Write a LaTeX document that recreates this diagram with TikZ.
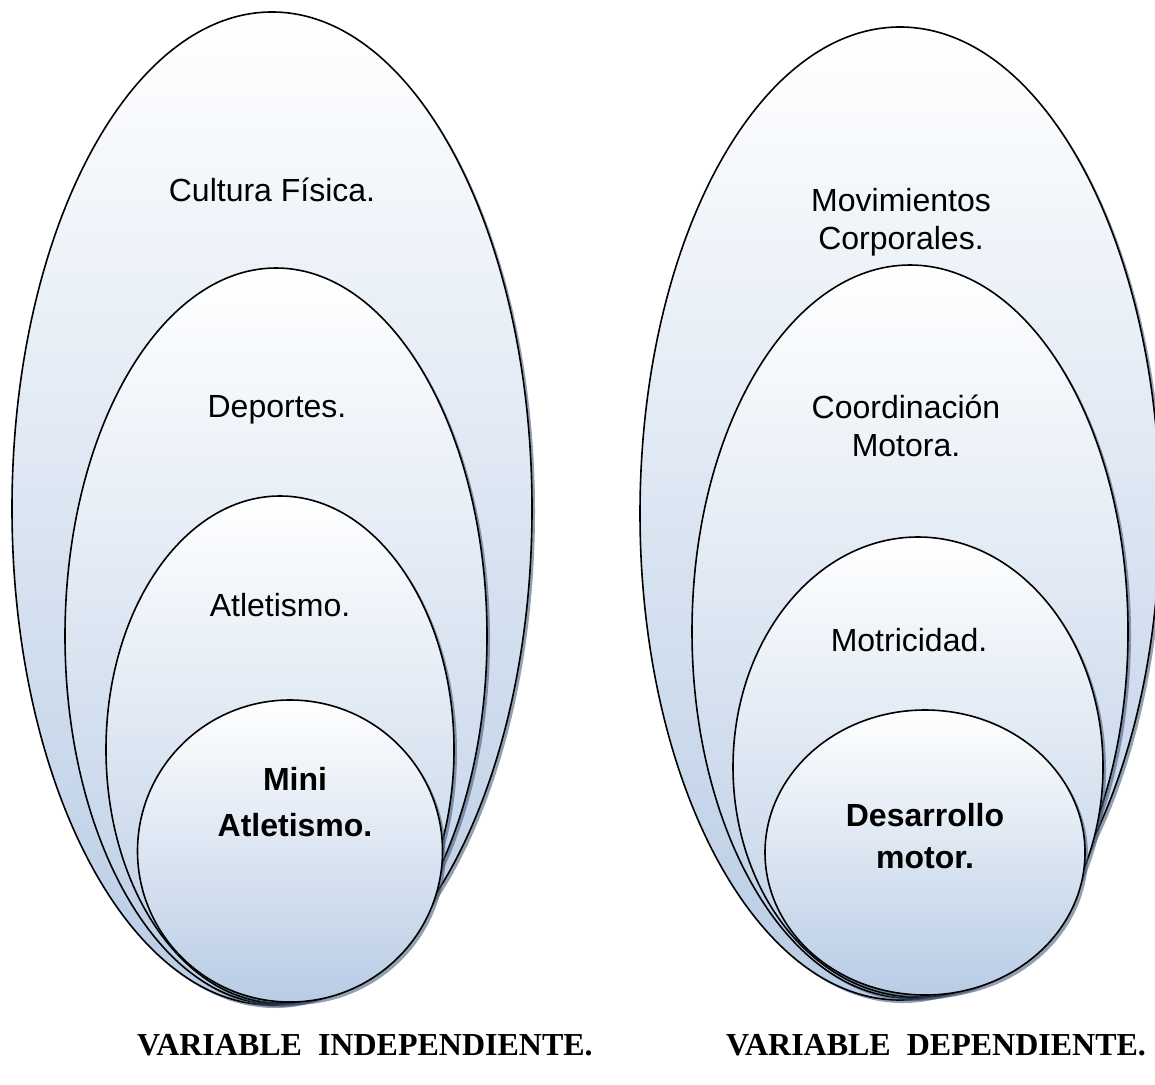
\documentclass[tikz,border=0pt]{standalone}
\usepackage{fontspec}
\setmainfont{Liberation Serif}
\newfontfamily\arialfont{Liberation Sans}
\usetikzlibrary{shapes.geometric,shadows}
\definecolor{ringblue}{RGB}{184,204,229}
\definecolor{ringshadow}{RGB}{60,80,110}

\begin{document}
\begin{tikzpicture}[x=1pt,y=-1pt,
  ring/.style={ellipse,draw=black,line width=1.6pt,inner sep=0pt,
    top color=white,bottom color=ringblue,
    drop shadow={shadow xshift=3pt,shadow yshift=-3pt,fill=ringshadow,opacity=.55}},
  ringtext/.style={font=\arialfont\fontsize{32}{38}\selectfont,align=center},
  vartext/.style={font=\bfseries\fontsize{32}{36}\selectfont}]
\useasboundingbox (0,0) rectangle (1155,1084);
\clip (0,0) rectangle (1155,1084);

% variable independiente
\node[ring,minimum width=520,minimum height=993] (li1) at (272,508.5) {};
\node[ring,minimum width=422,minimum height=736] (li2) at (276,636) {};
\node[ring,minimum width=348,minimum height=507] (li3) at (280,749.5) {};
\node[ring,minimum width=305,minimum height=302] (li4) at (290,851) {};

\node[ringtext] (lt1) at (272,190) {Cultura Física.};
\node[ringtext] (lt2) at (277,410) {Deportes.};
\node[ringtext] (lt3) at (280,605) {Atletismo.};
\node[ringtext,font=\arialfont\bfseries\fontsize{32}{46}\selectfont] (lt4) at (295,802) {Mini\\Atletismo.};

% variable dependiente
\node[ring,minimum width=520,minimum height=973] (ri1) at (900,513.5) {};
\node[ring,minimum width=436,minimum height=733] (ri2) at (910,631.5) {};
\node[ring,minimum width=370,minimum height=460] (ri3) at (918,767) {};
\node[ring,minimum width=320,minimum height=285] (ri4) at (925,852.5) {};

\node[ringtext] (rt1) at (901,222) {Movimientos\\Corporales.};
\node[ringtext] (rt2) at (906,426) {Coordinación\\Motora.};
\node[ringtext] (rt3) at (909,640) {Motricidad.};
\node[ringtext,font=\arialfont\bfseries\fontsize{32}{42}\selectfont] (rt4) at (925,836) {Desarrollo\\motor.};

\node[vartext] (lv) at (365,1045) {VARIABLE\ \ INDEPENDIENTE.};
\node[vartext] (rv) at (936,1045) {VARIABLE\ \ DEPENDIENTE.};
\end{tikzpicture}
\end{document}
